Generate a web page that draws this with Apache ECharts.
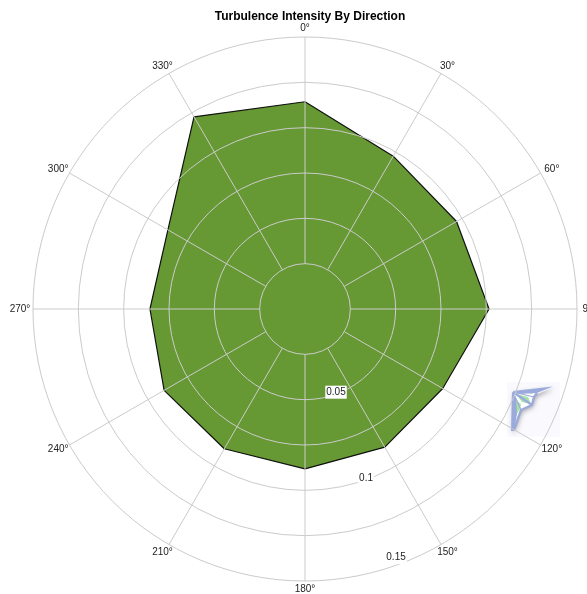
<!DOCTYPE html>
<html>
<head>
<meta charset="utf-8">
<style>html,body{margin:0;padding:0;background:#fff}#c{width:587px;height:594px}</style>
<script src="https://cdn.jsdelivr.net/npm/echarts@6/dist/echarts.min.js"></script>
</head>
<body>
<div id="c"></div>
<script>
const titleText = 'Turbulence Intensity By Direction';
const directions = [0, 30, 60, 90, 120, 150, 180, 210, 240, 270, 300, 330];
const intensity = [0.1143, 0.0973, 0.0965, 0.1015, 0.0877, 0.088, 0.0882, 0.089, 0.0897, 0.0855, 0.0873, 0.1224];
const ringLabels = [0.05, 0.1, 0.15];
const ringLabelAngle = 160;
const innerRing = 0.025;
const outerRing = 0.15;

const gridColor = '#cbcbcb';
const fontFamily = '"Liberation Sans", Arial, sans-serif';
const chart = echarts.init(document.getElementById('c'), null, {renderer: 'canvas'});

const closed = directions.concat(360).map((d, i) => [intensity[i % intensity.length], d]);
const ringLabelNudge = {0.05: [0, -2], 0.1: [-1, -1], 0.15: [-2, -7]};

function poly(points, fill, z, extra) {
  return {type: 'polygon', shape: {points}, style: Object.assign({fill}, extra || {}), z: z, silent: true};
}
function rib(points, width, z) {
  return {type: 'polyline', shape: {points}, style: {stroke: '#9aaadb', lineWidth: width, fill: null, lineJoin: 'round'}, z: z, silent: true};
}

chart.setOption({
  animation: false,
  backgroundColor: '#fff',
  title: {
    text: titleText, left: 305, top: 6, textAlign: 'center',
    textStyle: {fontFamily, fontSize: 12, fontWeight: 'bold', color: '#000'}
  },
  polar: {center: [305, 309], radius: [0, 272]},
  angleAxis: {
    type: 'value', min: 0, max: 360, interval: 30, startAngle: 90, clockwise: true,
    axisLine: {show: false}, axisTick: {show: false}, splitLine: {show: false},
    axisLabel: {show: false}
  },
  radiusAxis: {
    type: 'value', min: 0, max: outerRing, interval: innerRing, z: 5,
    axisLine: {show: false}, axisTick: {show: false}, axisLabel: {show: false},
    splitLine: {show: true, lineStyle: {color: gridColor, width: 1}}
  },
  series: [
    {
      type: 'line', coordinateSystem: 'polar', data: closed, symbol: 'none', z: 2,
      lineStyle: {color: '#111', width: 1.2},
      areaStyle: {color: '#669933', opacity: 1}
    },
    {
      type: 'custom', coordinateSystem: 'polar', z: 6, silent: true,
      data: directions.map(d => [innerRing, d, outerRing]),
      renderItem: (params, api) => {
        const a = api.coord([api.value(0), api.value(1)]);
        const b = api.coord([api.value(2), api.value(1)]);
        return {type: 'line', shape: {x1: a[0], y1: a[1], x2: b[0], y2: b[1]},
                style: {stroke: gridColor, lineWidth: 1}};
      }
    },
    {
      type: 'scatter', coordinateSystem: 'polar', z: 7, symbolSize: 0, silent: true,
      itemStyle: {opacity: 1},
      data: directions.map(d => {
        const t = d * Math.PI / 180;
        return {
          value: [outerRing, d],
          label: {offset: [Math.sin(t) * 13, -Math.cos(t) * 8.5]}
        };
      }),
      label: {
        show: true, position: 'inside', formatter: p => p.value[1] + '°',
        fontFamily, fontSize: 10, color: '#222', opacity: 1
      }
    },
    {
      type: 'scatter', coordinateSystem: 'polar', z: 8, symbolSize: 0, silent: true,
      itemStyle: {opacity: 1},
      data: ringLabels.map(v => ({value: [v, ringLabelAngle], label: {offset: ringLabelNudge[v]}})),
      label: {
        show: true, position: 'inside', formatter: p => String(p.value[0]), opacity: 1,
        fontFamily, fontSize: 10, color: '#222', backgroundColor: '#fff', padding: [2, 1, 1, 1]
      }
    }
  ],
  graphic: [{
    type: 'group', silent: true, z: 10,
    children: [
      {type: 'rect', shape: {x: 507, y: 382, width: 53, height: 55}, style: {fill: '#f9f9fe'}, z: 1},
      poly([[513,392],[553,387],[535,395],[532,405],[521,410],[514,430],[512,430]], '#ffffff', 2,
           {shadowBlur: 5, shadowColor: 'rgba(90,90,90,0.55)', shadowOffsetX: 1, shadowOffsetY: 2}),
      poly([[516,394],[528,397],[531,404],[522,402]], '#a9e2a9', 3),
      poly([[514,399],[521,404],[520,409],[515,417]], '#a9e2a9', 3),
      poly([[528,392],[540,390],[531,394]], '#a9e2a9', 3),
      poly([[513,391],[553,386.5],[537,393],[520,394]], '#9aaadb', 4),
      poly([[512,392],[516,398],[517,414],[514,431],[511,431]], '#9aaadb', 4),
      rib([[537,393],[534,397],[532,405],[521,410],[514,430]], 2.4, 4),
      rib([[513,392],[532,405]], 2.2, 4),
      rib([[513,392],[534,397]], 1.2, 4),
      rib([[513,392],[521,410]], 1.2, 4)
    ]
  }]
});
</script>
</body>
</html>
